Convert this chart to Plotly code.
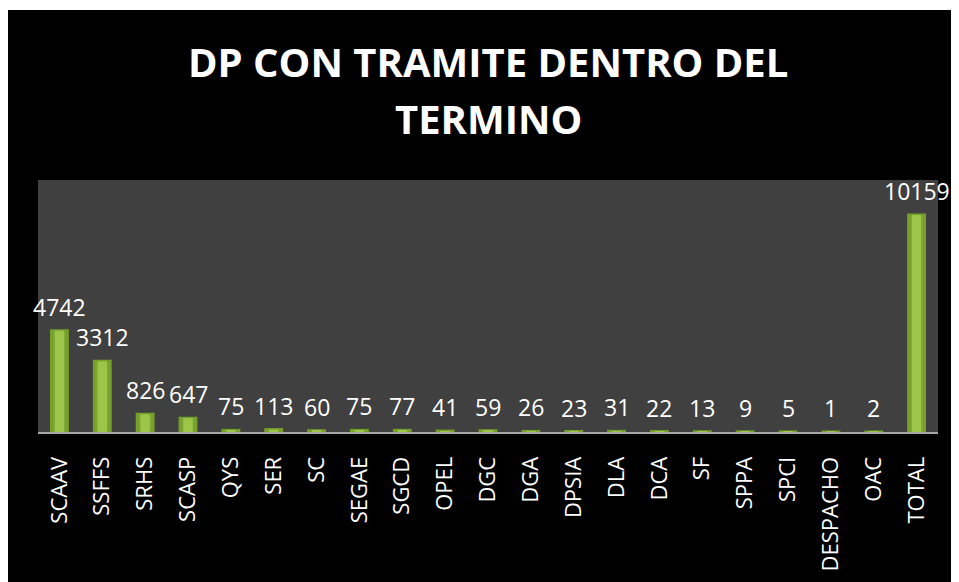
import plotly.graph_objects as go

categories = ["SCAAV", "SSFFS", "SRHS", "SCASP", "QYS", "SER", "SC", "SEGAE", "SGCD",
              "OPEL", "DGC", "DGA", "DPSIA", "DLA", "DCA", "SF", "SPPA", "SPCI",
              "DESPACHO", "OAC", "TOTAL"]
values = [4742, 3312, 826, 647, 75, 113, 60, 75, 77, 41, 59, 26, 23, 31, 22, 13, 9, 5, 1, 2, 10159]
title_lines = ["DP CON TRAMITE DENTRO DEL", "TERMINO"]

FONT = "Open Sans"

fig = go.Figure()
# outer (darker edge) bars
fig.add_trace(go.Bar(
    x=categories, y=values,
    marker=dict(color="#7FA532", line=dict(color="#76A02C", width=3)),
    width=0.37, showlegend=False, cliponaxis=False, hoverinfo="x+y",
))
# inner highlight for bevel look
fig.add_trace(go.Bar(
    x=categories, y=values,
    marker=dict(color="#9CC54A", line=dict(width=0)),
    width=0.22, showlegend=False, cliponaxis=False, hoverinfo="skip",
))

annotations = []
for c, v in zip(categories, values):
    annotations.append(dict(x=c, y=v, xref="x", yref="y", text=str(v), showarrow=False,
                            yanchor="bottom", yshift=6,
                            font=dict(family=FONT, size=23, color="white")))
for i, line in enumerate(title_lines):
    annotations.append(dict(x=0.5, y=[1.47, 1.245][i], xref="paper", yref="paper", text="<b>%s</b>" % line,
                            showarrow=False, yanchor="middle",
                            font=dict(family=FONT, size=40, color="white")))

fig.update_layout(
    width=951, height=574,
    margin=dict(l=30, r=21, t=172, b=150),
    paper_bgcolor="white",
    plot_bgcolor="#404040",
    barmode="overlay",
    shapes=[
        dict(type="rect", xref="paper", yref="paper", x0=-0.05, x1=1.05, y0=-0.7, y1=(424-2)/252,
             fillcolor="black", line=dict(width=0), layer="below"),
        dict(type="rect", xref="paper", yref="paper", x0=0, x1=1, y0=0, y1=1,
             fillcolor="#404040", line=dict(width=0), layer="below"),
    ],
    annotations=annotations,
    xaxis=dict(showline=True, linecolor="#A6A6A6", linewidth=2, showgrid=False,
               range=[-0.5, len(categories) - 0.5],
               tickangle=-90, tickfont=dict(family=FONT, size=22, color="white"),
               ticks="", ticklabelstandoff=14, fixedrange=True),
    yaxis=dict(range=[0, 11800], visible=False, showgrid=False, zeroline=False),
)

fig.write_html("out.html")
